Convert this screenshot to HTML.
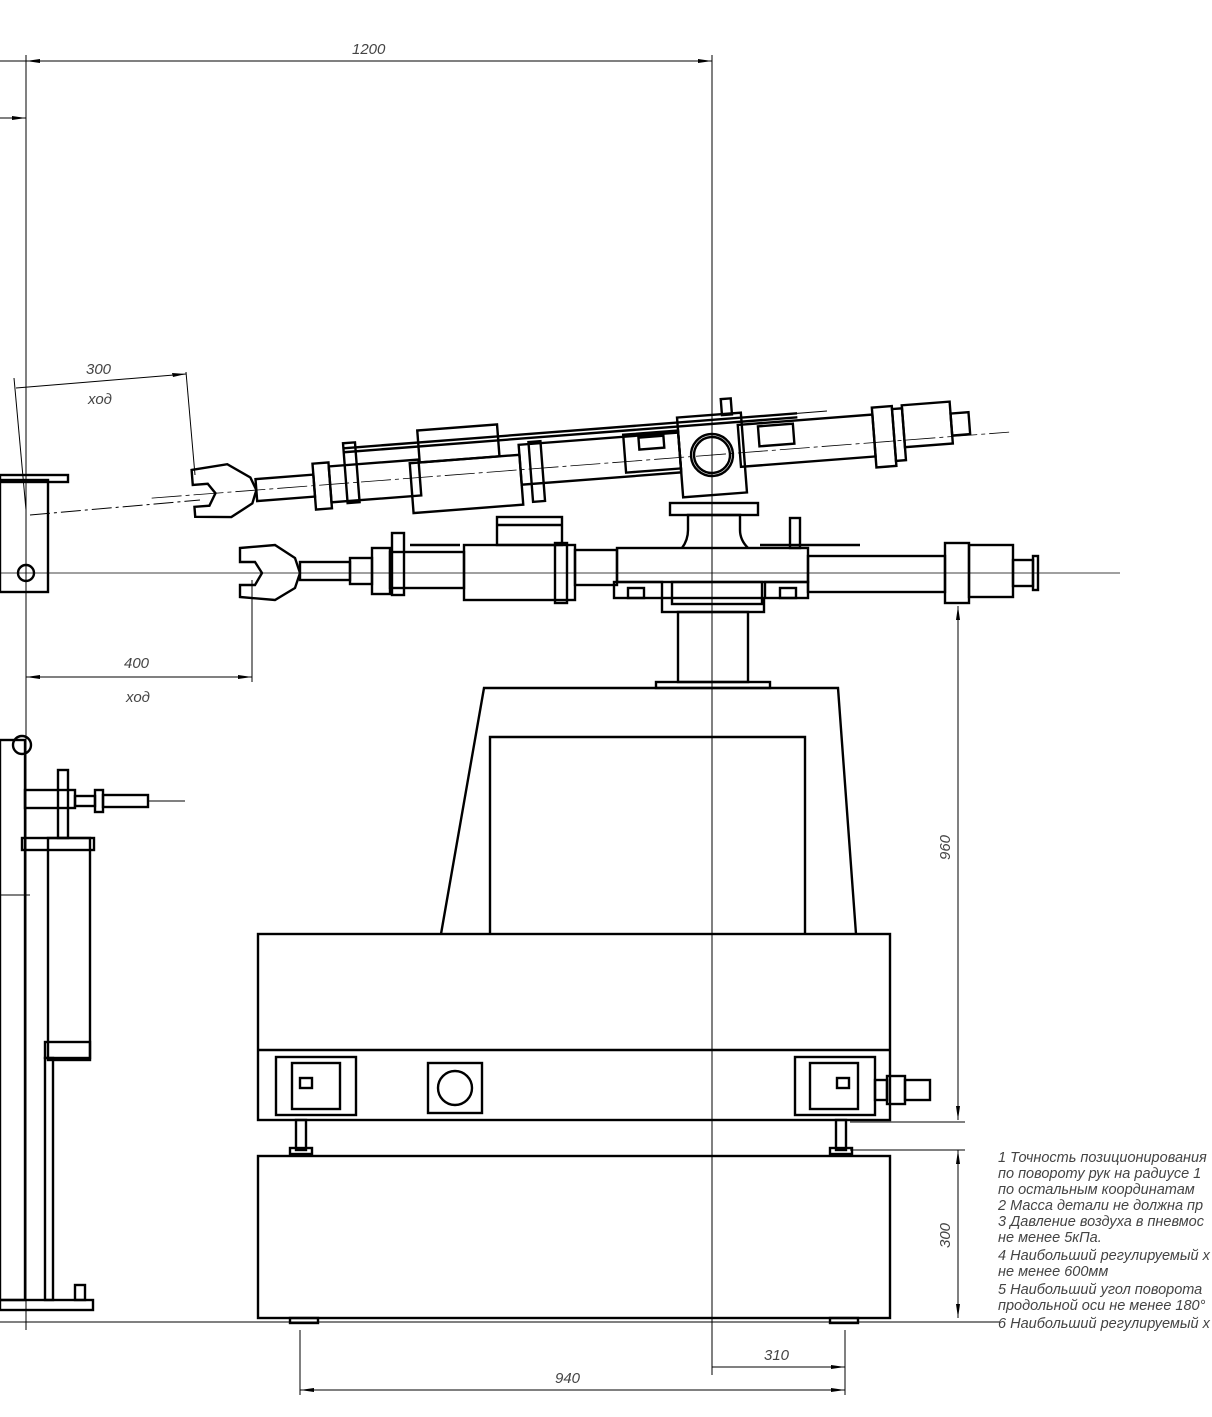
<!DOCTYPE html>
<html><head><meta charset="utf-8"><style>
html,body{margin:0;padding:0;background:#fff}
svg{display:block}
text{font-family:"Liberation Sans",sans-serif;font-style:italic;fill:#444}
</style></head><body>
<svg width="1212" height="1417" viewBox="0 0 1212 1417" xmlns="http://www.w3.org/2000/svg">
<g fill="none" stroke="#000" stroke-width="1">
<line x1="0" y1="61" x2="712" y2="61"/>
<line x1="0" y1="118" x2="26" y2="118"/>
<line x1="26" y1="55" x2="26" y2="1330"/>
<line x1="712" y1="55" x2="712" y2="1375"/>
<line x1="16" y1="388" x2="186" y2="374"/>
<line x1="14" y1="378" x2="26" y2="510"/>
<line x1="186" y1="372" x2="195" y2="475"/>
<line x1="26" y1="677" x2="252" y2="677"/>
<line x1="252" y1="580" x2="252" y2="682"/>
<line x1="0" y1="573" x2="1120" y2="573" stroke-width="0.8"/>
<line x1="30" y1="515" x2="200" y2="500" stroke-dasharray="20 4 3 4"/>
<line x1="958" y1="606" x2="958" y2="1120"/>
<line x1="850" y1="1122" x2="965" y2="1122"/>
<line x1="850" y1="1150" x2="965" y2="1150"/>
<line x1="958" y1="1150" x2="958" y2="1318"/>
<line x1="300" y1="1330" x2="300" y2="1395"/>
<line x1="845" y1="1330" x2="845" y2="1395"/>
<line x1="300" y1="1390" x2="845" y2="1390"/>
<line x1="712" y1="1367" x2="845" y2="1367"/>
<line x1="0" y1="1322" x2="1000" y2="1322"/>
<line x1="712" y1="400" x2="712" y2="682" stroke-dasharray="30 4 4 4"/>
</g>
<g fill="#000">
<polygon points="26,61 40,59 40,63"/><polygon points="712,61 698,59 698,63"/>
<polygon points="26,118 12,116 12,120"/>
<polygon points="26,677 40,675 40,679"/><polygon points="252,677 238,675 238,679"/>
<polygon points="186,374 172,373 173,377"/>
<polygon points="958,606 956,620 960,620"/><polygon points="958,1120 956,1106 960,1106"/>
<polygon points="958,1150 956,1164 960,1164"/><polygon points="958,1318 956,1304 960,1304"/>
<polygon points="300,1390 314,1388 314,1392"/><polygon points="845,1390 831,1388 831,1392"/>
<polygon points="845,1367 831,1365 831,1369"/>
</g>
<text x="352" y="54" font-size="15">1200</text>
<text x="86" y="374" font-size="15">300</text>
<text x="88" y="404" font-size="15">ход</text>
<text x="124" y="668" font-size="15">400</text>
<text x="126" y="702" font-size="15">ход</text>
<text x="555" y="1383" font-size="15">940</text>
<text x="764" y="1360" font-size="15">310</text>
<text font-size="15" transform="translate(950,860) rotate(-90)">960</text>
<text font-size="15" transform="translate(950,1248) rotate(-90)">300</text>

<g fill="none" stroke="#000" stroke-width="2.4">
<rect x="258" y="934" width="632" height="186"/>
<line x1="258" y1="1050" x2="890" y2="1050"/>
<rect x="276" y="1057" width="80" height="58"/><rect x="292" y="1063" width="48" height="46"/>
<rect x="795" y="1057" width="80" height="58"/><rect x="810" y="1063" width="48" height="46"/>
<rect x="300" y="1078" width="12" height="10"/><rect x="837" y="1078" width="12" height="10"/>
<rect x="428" y="1063" width="54" height="50"/><circle cx="455" cy="1088" r="17"/>
<rect x="875" y="1080" width="12" height="20"/><rect x="887" y="1076" width="18" height="28"/><rect x="905" y="1080" width="25" height="20"/>
<rect x="296" y="1120" width="10" height="30"/><rect x="836" y="1120" width="10" height="30"/>
<rect x="290" y="1148" width="22" height="6"/><rect x="830" y="1148" width="22" height="6"/>
<rect x="258" y="1156" width="632" height="162"/>
<rect x="290" y="1318" width="28" height="5"/><rect x="830" y="1318" width="28" height="5"/>
<polyline points="441,934 484,688 838,688 856,934"/>
<polyline points="490,934 490,737 805,737 805,934"/>
<rect x="656" y="682" width="114" height="6"/>
<rect x="678" y="612" width="70" height="70"/>
<rect x="662" y="598" width="102" height="14"/>
<rect x="617" y="548" width="191" height="34"/>
<rect x="614" y="582" width="48" height="16"/><rect x="628" y="588" width="16" height="10"/>
<rect x="765" y="582" width="43" height="16"/><rect x="780" y="588" width="16" height="10"/>
<rect x="672" y="582" width="90" height="22"/>
<path d="M682,548 Q688,540 688,530 L688,515 L740,515 L740,530 Q740,540 748,548"/>
<rect x="670" y="503" width="88" height="12"/>
<rect x="808" y="556" width="137" height="36"/>
<rect x="945" y="543" width="24" height="60"/><rect x="969" y="545" width="44" height="52"/>
<rect x="1013" y="560" width="20" height="26"/><rect x="1033" y="556" width="5" height="34"/>
<rect x="464" y="545" width="111" height="55"/><rect x="497" y="517" width="65" height="28"/>
<line x1="497" y1="525" x2="562" y2="525"/>
<rect x="575" y="550" width="42" height="35"/>
<rect x="555" y="543" width="12" height="60"/>
<rect x="390" y="552" width="74" height="36"/><rect x="392" y="533" width="12" height="62"/>
<rect x="372" y="548" width="18" height="46"/><rect x="350" y="558" width="22" height="26"/>
<rect x="300" y="562" width="50" height="18"/>
<line x1="760" y1="545" x2="860" y2="545"/><rect x="790" y="518" width="10" height="30"/>
<line x1="410" y1="545" x2="460" y2="545"/>
<path d="M240,548 L275,545 L295,558 L300,573 L295,588 L275,600 L240,597 L240,585 L255,585 L262,573 L255,562 L240,562 Z"/>
<rect x="0" y="480" width="48" height="112"/><rect x="0" y="475" width="68" height="7"/>
<circle cx="26" cy="573" r="8"/>
<rect x="0" y="740" width="25" height="560"/>
<rect x="48" y="838" width="42" height="222"/><rect x="45" y="1042" width="45" height="16"/>
<rect x="22" y="838" width="72" height="12"/>
<rect x="58" y="770" width="10" height="68"/>
<rect x="25" y="790" width="50" height="18"/>
<rect x="75" y="796" width="20" height="10"/><rect x="95" y="790" width="8" height="22"/><rect x="103" y="795" width="45" height="12"/>
<circle cx="22" cy="745" r="9"/>
<rect x="0" y="1300" width="93" height="10"/>
<rect x="45" y="1058" width="8" height="242"/><rect x="75" y="1285" width="10" height="15"/>
</g>
<g fill="none" stroke="#000" stroke-width="1">
<line x1="148" y1="801" x2="185" y2="801"/>
<line x1="0" y1="895" x2="30" y2="895"/>
</g>
<g fill="none" stroke="#000" stroke-width="2.4" transform="rotate(-4.4 712 455)">
<line x1="150" y1="455" x2="1010" y2="455" stroke-width="0.8" stroke-dasharray="30 4 4 4"/>
<path d="M192,430 L228,427 L250,442 L255,455 L250,468 L228,480 L192,477 L192,467 L207,467 L214,455 L207,445 L192,445 Z"/>
<rect x="255" y="444" width="58" height="22"/><rect x="313" y="433" width="16" height="46"/>
<rect x="329" y="437" width="90" height="36"/><rect x="345" y="415" width="12" height="60"/>
<rect x="410" y="440" width="110" height="50"/><rect x="420" y="408" width="80" height="32"/>
<rect x="520" y="430" width="160" height="40"/><rect x="530" y="428" width="12" height="60"/>
<rect x="625" y="428" width="55" height="38"/><rect x="640" y="432" width="25" height="12"/>
<rect x="680" y="415" width="64" height="80"/>
<circle cx="712" cy="455" r="21"/><circle cx="712" cy="455" r="18"/>
<rect x="740" y="427" width="135" height="42"/><rect x="760" y="430" width="35" height="20"/>
<rect x="875" y="420" width="20" height="60"/><rect x="895" y="423" width="10" height="52"/>
<rect x="905" y="420" width="48" height="42"/><rect x="953" y="432" width="18" height="22"/>
<rect x="725" y="400" width="10" height="16"/>
<line x1="345" y1="420" x2="800" y2="420"/><line x1="345" y1="424" x2="800" y2="424"/>
<line x1="800" y1="420" x2="830" y2="420" stroke-width="1"/>
</g>
<g font-size="14.5" fill="#333">
<text x="998" y="1162">1 Точность позиционирования</text>
<text x="998" y="1178">по повороту рук на радиусе 1</text>
<text x="998" y="1194">по остальным координатам</text>
<text x="998" y="1210">2 Масса детали не должна пр</text>
<text x="998" y="1226">3 Давление воздуха в пневмос</text>
<text x="998" y="1242">не менее 5кПа.</text>
<text x="998" y="1260">4 Наибольший регулируемый х</text>
<text x="998" y="1276">не менее 600мм</text>
<text x="998" y="1294">5 Наибольший угол поворота</text>
<text x="998" y="1310">продольной оси не менее 180°</text>
<text x="998" y="1328">6 Наибольший регулируемый х</text>
</g>
</svg>
</body></html>
